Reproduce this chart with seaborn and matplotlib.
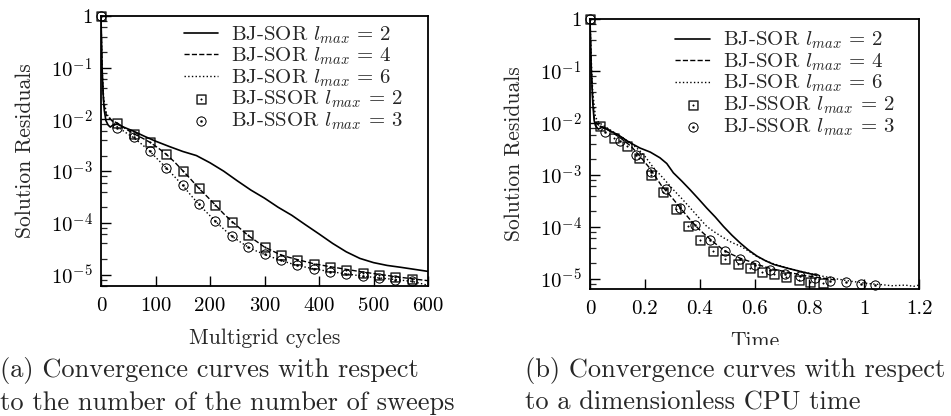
import math
import matplotlib
matplotlib.use("Agg")
import matplotlib.pyplot as plt
import seaborn as sns
from matplotlib.ticker import FuncFormatter, LogLocator, FixedLocator, NullLocator
from matplotlib.transforms import Bbox

# ---------------- (a) residuals against multigrid cycles ----------------
cyc_sor2 = [0, 1, 2, 4, 6, 9, 13, 17, 22, 30, 40, 60, 80, 100, 125, 150, 175, 200, 225, 250,
            275, 300, 325, 350, 375, 400, 425, 450, 475, 500, 525, 550, 575, 600]
res_sor2 = [1, 0.3, 0.1, 0.03, 0.015, 0.0095, 0.0078, 0.0071, 0.0078, 0.0081, 0.0072, 0.0059,
            0.0047, 0.0038, 0.003, 0.0024, 0.002, 0.00145, 0.001, 6.5e-4, 4.3e-4, 3.0e-4, 2.0e-4,
            1.4e-4, 9.2e-5, 6.1e-5, 4.0e-5, 2.75e-5, 2.05e-5, 1.7e-5, 1.5e-5, 1.38e-5, 1.26e-5, 1.15e-5]

cyc_sor4 = [0, 2, 5, 10, 20, 30, 45, 60, 75, 90, 105, 120, 135, 150, 165, 180, 195, 210, 225, 240,
            255, 270, 285, 300, 315, 330, 345, 360, 390, 420, 450, 480, 510, 540, 570, 600]
res_sor4 = [1, 0.08, 0.02, 0.012, 0.0095, 0.0085, 0.0066, 0.0053, 0.0044, 0.0036, 0.0028, 0.0021,
            0.0015, 0.00102, 6.9e-4, 4.6e-4, 3.2e-4, 2.2e-4, 1.5e-4, 1.07e-4, 7.8e-5, 5.7e-5, 4.4e-5,
            3.4e-5, 2.85e-5, 2.4e-5, 2.15e-5, 1.95e-5, 1.62e-5, 1.42e-5, 1.26e-5, 1.12e-5, 1.01e-5,
            9.1e-6, 8.3e-6, 7.6e-6]

cyc_sor6 = [0, 2, 5, 10, 15, 20, 30, 45, 60, 75, 90, 105, 120, 135, 150, 165, 180, 195, 210, 225,
            240, 255, 270, 285, 300, 330, 360, 390, 420, 450, 480, 510, 540, 570, 600]
res_sor6 = [1, 0.1, 0.025, 0.013, 0.011, 0.0095, 0.0072, 0.0056, 0.0044, 0.0033, 0.0024, 0.00165,
            0.00115, 7.8e-4, 5.3e-4, 3.4e-4, 2.25e-4, 1.55e-4, 1.07e-4, 7.6e-5, 5.5e-5, 4.3e-5, 3.4e-5,
            2.85e-5, 2.45e-5, 1.87e-5, 1.5e-5, 1.29e-5, 1.14e-5, 1.03e-5, 9.3e-6, 8.6e-6, 8.0e-6,
            7.4e-6, 6.2e-6]

# SSOR runs, sampled every 30 cycles (same residuals in both panels)
cyc_ssor = [0, 30, 60, 90, 120, 150, 180, 210, 240, 270, 300, 330, 360, 390, 420, 450, 480, 510,
            540, 570]
res_ssor2 = [1, 8.6e-3, 5.25e-3, 3.6e-3, 2.1e-3, 1.0e-3, 4.65e-4, 2.17e-4, 1.06e-4, 5.7e-5, 3.4e-5,
             2.42e-5, 1.92e-5, 1.59e-5, 1.38e-5, 1.22e-5, 1.08e-5, 9.7e-6, 8.9e-6, 8.2e-6]
res_ssor3 = [1, 6.8e-3, 4.5e-3, 2.45e-3, 1.16e-3, 5.35e-4, 2.27e-4, 1.07e-4, 5.5e-5, 3.4e-5, 2.45e-5,
             1.88e-5, 1.5e-5, 1.27e-5, 1.12e-5, 1.02e-5, 9.3e-6, 8.7e-6, 7.95e-6, 7.5e-6]

# ---------------- (b) residuals against dimensionless CPU time ----------------
t_sor2 = [0, 0.005, 0.01, 0.015, 0.02, 0.03, 0.045, 0.07, 0.1, 0.145, 0.182, 0.22, 0.255, 0.28,
          0.304, 0.335, 0.365, 0.395, 0.426, 0.457, 0.487, 0.518, 0.548, 0.578, 0.609, 0.64, 0.67,
          0.718, 0.77, 0.828]
res_sor2_t = [1, 0.1, 0.025, 0.0112, 0.0089, 0.0076, 0.0083, 0.0072, 0.006, 0.0042, 0.0033, 0.00275,
              0.00214, 0.00166, 0.0011, 7.6e-4, 5.2e-4, 3.5e-4, 2.3e-4, 1.55e-4, 1.02e-4, 6.9e-5,
              4.9e-5, 3.6e-5, 2.75e-5, 2.24e-5, 1.9e-5, 1.62e-5, 1.38e-5, 1.17e-5]

t_sor4 = [0, 0.005, 0.01, 0.015, 0.02, 0.03, 0.05, 0.08, 0.11, 0.15, 0.182, 0.218, 0.26, 0.304,
          0.335, 0.365, 0.395, 0.426, 0.457, 0.487, 0.518, 0.548, 0.58, 0.609, 0.66, 0.72, 0.78,
          0.84, 0.9]
res_sor4_t = [1, 0.09, 0.028, 0.013, 0.0105, 0.0092, 0.0082, 0.0066, 0.0052, 0.00355, 0.00229,
              0.00135, 6.3e-4, 3.4e-4, 2.14e-4, 1.38e-4, 9.3e-5, 6.6e-5, 4.8e-5, 3.6e-5, 2.95e-5,
              2.5e-5, 2.19e-5, 1.9e-5, 1.58e-5, 1.35e-5, 1.17e-5, 1.05e-5, 9.5e-6]

t_sor6 = [0, 0.005, 0.01, 0.02, 0.03, 0.05, 0.08, 0.11, 0.15, 0.182, 0.2, 0.23, 0.265, 0.304, 0.335,
          0.365, 0.395, 0.426, 0.457, 0.487, 0.518, 0.548, 0.58, 0.609, 0.64, 0.67, 0.72, 0.78,
          0.84, 0.9, 0.96, 1.02, 1.06, 1.1, 1.15, 1.18, 1.2]
res_sor6_t = [1, 0.15, 0.04, 0.013, 0.0105, 0.0088, 0.007, 0.0055, 0.0041, 0.0029, 0.0023, 0.00141,
              8.9e-4, 5.2e-4, 3.5e-4, 2.34e-4, 1.55e-4, 1.02e-4, 7.8e-5, 6.2e-5, 5.0e-5, 4.3e-5,
              3.4e-5, 2.7e-5, 2.24e-5, 1.95e-5, 1.62e-5, 1.35e-5, 1.15e-5, 1.0e-5, 8.9e-6, 8.1e-6,
              7.8e-6, 7.4e-6, 7.6e-6, 7.2e-6, 7.6e-6]

t_ssor2 = [0, 0.038, 0.089, 0.134, 0.179, 0.224, 0.268, 0.312, 0.357, 0.402, 0.448, 0.492, 0.538,
           0.582, 0.627, 0.672, 0.716, 0.761, 0.804, 0.849]
t_ssor3 = [0, 0.054, 0.109, 0.166, 0.221, 0.276, 0.328, 0.383, 0.438, 0.493, 0.548, 0.602, 0.657,
           0.712, 0.767, 0.822, 0.877, 0.932, 0.987, 1.041]

labels = [r"BJ-SOR $l_{max}$ = 2", r"BJ-SOR $l_{max}$ = 4", r"BJ-SOR $l_{max}$ = 6",
          r"BJ-SSOR $l_{max}$ = 2", r"BJ-SSOR $l_{max}$ = 3"]

sns.set_style("ticks")
plt.rcParams["font.family"] = "serif"
plt.rcParams["font.serif"] = ["cmr10", "DejaVu Serif"]
plt.rcParams["mathtext.fontset"] = "cm"
plt.rcParams["axes.unicode_minus"] = False
plt.rcParams["axes.formatter.use_mathtext"] = True

fig = plt.figure(figsize=(9.51, 4.16), dpi=100)
ax1 = fig.add_axes([101 / 951, 130 / 416, 327 / 951, 270 / 416])
ax2 = fig.add_axes([590 / 951, 127 / 416, 329 / 951, 270 / 416])


def log_label(v, _):
    e = int(round(math.log10(v)))
    return "1" if e == 0 else r"$10^{%d}$" % e


def draw_panel(ax, lines, marks, xlim, ylim, xticks, xlabel, leg_anchor):
    styles = [("-", 1.2), ("--", 1.0), (":", 1.0)]
    for (x, y), (ls, lw), lab in zip(lines, styles, labels[:3]):
        sns.lineplot(x=x, y=y, ax=ax, color="black", linestyle=ls, linewidth=lw,
                     estimator=None, sort=False, label=lab)
    for (x, y), mk, lab in zip(marks, [r"$\boxdot$", r"$\odot$"], labels[3:]):
        sns.scatterplot(x=x, y=y, ax=ax, marker=mk, s=48, color="black", edgecolor="black",
                        linewidth=0.3, label=lab, zorder=3, clip_on=False)
    ax.set_yscale("log")
    ax.set_xlim(*xlim)
    ax.set_ylim(*ylim)
    ax.xaxis.set_major_locator(FixedLocator(xticks))
    ax.xaxis.set_minor_locator(NullLocator())
    ax.xaxis.set_major_formatter(FuncFormatter(lambda v, _: "%g" % v))
    ax.yaxis.set_major_locator(FixedLocator([1, 1e-1, 1e-2, 1e-3, 1e-4, 1e-5]))
    ax.yaxis.set_minor_locator(LogLocator(base=10, subs=(2, 4, 6, 8), numticks=20))
    ax.yaxis.set_major_formatter(FuncFormatter(log_label))
    ax.tick_params(which="major", direction="in", length=7, width=1.0, labelsize=15,
                   color="black", labelcolor="black")
    ax.tick_params(axis="x", which="major", pad=8)
    ax.tick_params(axis="y", which="major", pad=6)
    ax.tick_params(which="minor", direction="in", length=4, width=0.9)
    for sp in ax.spines.values():
        sp.set_visible(True)
        sp.set_linewidth(1.3)
        sp.set_color("black")
    ax.set_xlabel(xlabel, fontsize=15.5, labelpad=10)
    ax.set_ylabel("Solution Residuals", fontsize=15.5, labelpad=11)
    ax.legend(loc="upper right", bbox_to_anchor=leg_anchor, frameon=False, fontsize=15,
              handlelength=1.65, handletextpad=0.64, labelspacing=0.0, borderpad=0,
              borderaxespad=0, scatterpoints=1)


draw_panel(ax1,
           [(cyc_sor2, res_sor2), (cyc_sor4, res_sor4), (cyc_sor6, res_sor6)],
           [(cyc_ssor, res_ssor2), (cyc_ssor, res_ssor3)],
           (0, 600), (6e-6, 1), [0, 100, 200, 300, 400, 500, 600], "Multigrid cycles",
           (0.924, 0.97))
draw_panel(ax2,
           [(t_sor2, res_sor2_t), (t_sor4, res_sor4_t), (t_sor6, res_sor6_t)],
           [(t_ssor2, res_ssor2), (t_ssor3, res_ssor3)],
           (0, 1.2), (6.4e-6, 1), [0, 0.2, 0.4, 0.6, 0.8, 1.0, 1.2], "Time",
           (0.927, 0.96))

# the "Time" label is cut off by the caption block in the original
ax2.xaxis.label.set_clip_on(True)
ax2.xaxis.label.set_clip_box(Bbox.from_extents(0, 416 - 345, 951, 416))

fig.text(0.0, 1 - 371 / 416, "(a) Convergence curves with respect", fontsize=19, va="center")
fig.text(0.0, 1 - 403 / 416, "to the number of the number of sweeps", fontsize=19, va="center")
fig.text(525 / 951, 1 - 371 / 416, "(b) Convergence curves with respect", fontsize=19, va="center")
fig.text(525 / 951, 1 - 403 / 416, "to a dimensionless CPU time", fontsize=19, va="center")

fig.savefig("out.png", dpi=100)
